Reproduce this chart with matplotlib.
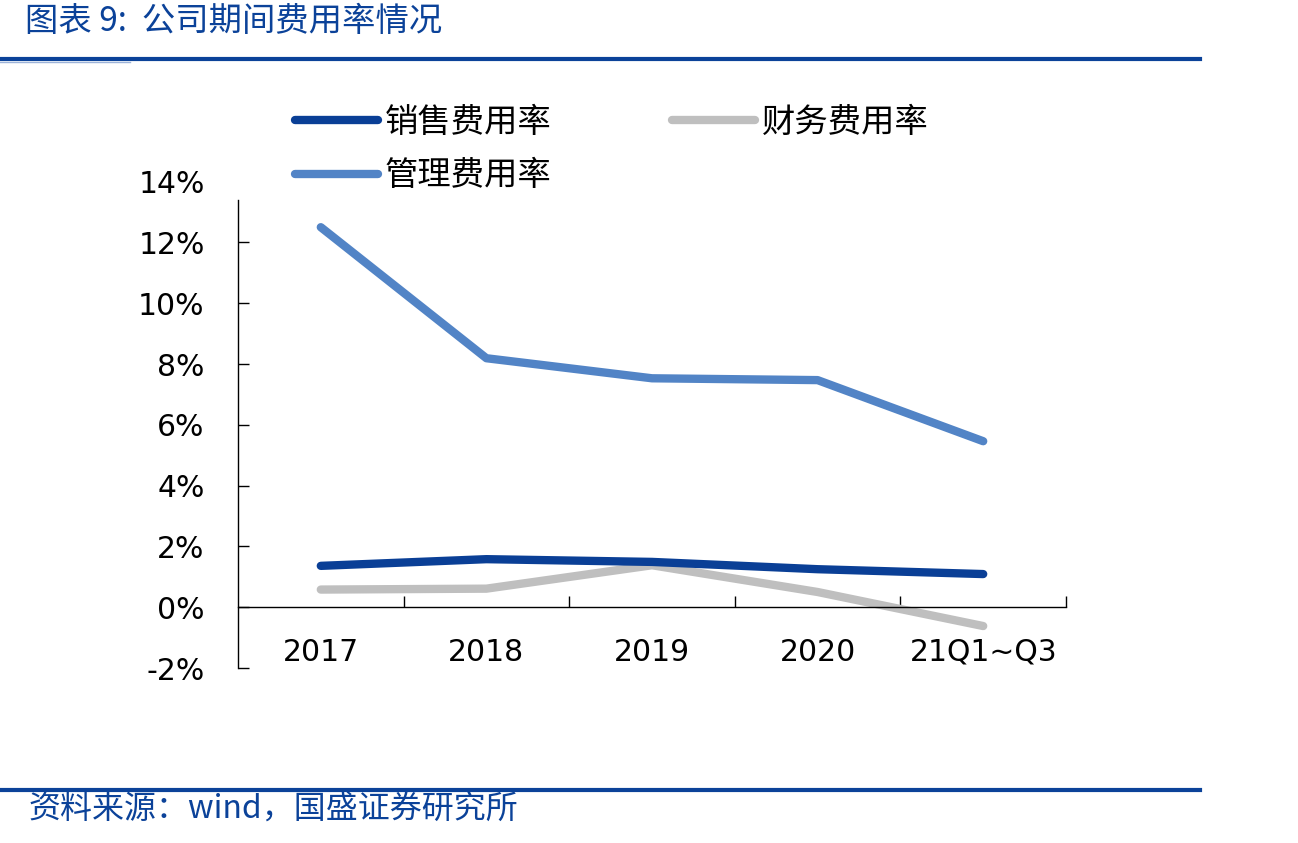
import matplotlib
matplotlib.use("Agg")
import matplotlib.pyplot as plt
from matplotlib.lines import Line2D

plt.rcParams['font.family'] = ['DejaVu Sans', 'Noto Sans CJK SC']

categories = ['2017', '2018', '2019', '2020', '21Q1~Q3']
sales = [1.36, 1.58, 1.49, 1.25, 1.09]
finance = [0.58, 0.61, 1.38, 0.50, -0.62]
admin = [12.5, 8.19, 7.53, 7.47, 5.46]
yticks = [-2, 0, 2, 4, 6, 8, 10, 12, 14]

c_sales = '#0A3F96'
c_fin = '#BFBFBF'
c_admin = '#5284C6'
c_brand = '#0B4299'

fig = plt.figure(figsize=(12.98, 8.43), dpi=100)
ax = fig.add_axes([238 / 1298, 1 - 668 / 843, 828 / 1298, (668 - 181.6) / 843])

x = range(len(categories))
ax.plot(x, sales, color=c_sales, lw=6, solid_capstyle='round', zorder=3)
ax.plot(x, finance, color=c_fin, lw=6, solid_capstyle='round', zorder=2)
ax.plot(x, admin, color=c_admin, lw=6, solid_capstyle='round', zorder=2)

ax.set_xlim(-0.5, len(categories) - 0.5)
ax.set_ylim(-2, 14)
ax.spines['top'].set_visible(False)
ax.spines['right'].set_visible(False)
ax.spines['bottom'].set_position(('data', 0))
ax.spines['left'].set_bounds(-2, 13.4)
for s in ('left', 'bottom'):
    ax.spines[s].set_linewidth(1)

ax.set_yticks(yticks)
ax.set_yticklabels([f'{v}%' for v in yticks], fontsize=21.5)
ax.tick_params(axis='y', direction='in', length=8, width=1, pad=24)
ax.yaxis.get_major_ticks()[-1].tick1line.set_visible(False)

ax.set_xticks(list(x))
ax.set_xticklabels(categories, fontsize=21.5)
ax.tick_params(axis='x', which='major', length=0, pad=22)
ax.set_xticks([i + 0.5 for i in x], minor=True)
ax.tick_params(axis='x', which='minor', direction='in', length=8, width=1)

handles = [Line2D([], [], color=c_sales, lw=6, solid_capstyle='round'),
           Line2D([], [], color=c_admin, lw=6, solid_capstyle='round'),
           Line2D([], [], color=c_fin, lw=6, solid_capstyle='round')]
labels = ['销售费用率', '管理费用率', '财务费用率']
fig.legend(handles, labels, loc='upper left', bbox_to_anchor=(295 / 1298, 1 - 105 / 843),
           ncol=2, frameon=False, handlelength=2.5, handletextpad=0.2,
           columnspacing=3.6, labelspacing=0.55, borderpad=0, borderaxespad=0,
           prop={'family': ['Noto Sans CJK SC'], 'size': 24})

# header / footer
fig.text(25 / 1298, 1 - 21 / 843, '图表 9:  公司期间费用率情况', color=c_brand, fontsize=24,
         style='italic', va='center', ha='left', family=['Noto Sans CJK SC', 'DejaVu Sans'])
fig.add_artist(Line2D([0, 1200 / 1298], [1 - 59 / 843] * 2, color=c_brand, lw=3))
fig.add_artist(Line2D([0, 130 / 1298], [1 - 62 / 843] * 2, color='#9DB3D9', lw=1))
fig.add_artist(Line2D([0, 1200 / 1298], [1 - 790 / 843] * 2, color=c_brand, lw=3))
fig.text(28 / 1298, 1 - 810 / 843, '资料来源：wind，国盛证券研究所', color=c_brand, fontsize=23,
         style='italic', va='center', ha='left', family=['Noto Sans CJK SC', 'DejaVu Sans'])

fig.savefig('out.png', dpi=100)
